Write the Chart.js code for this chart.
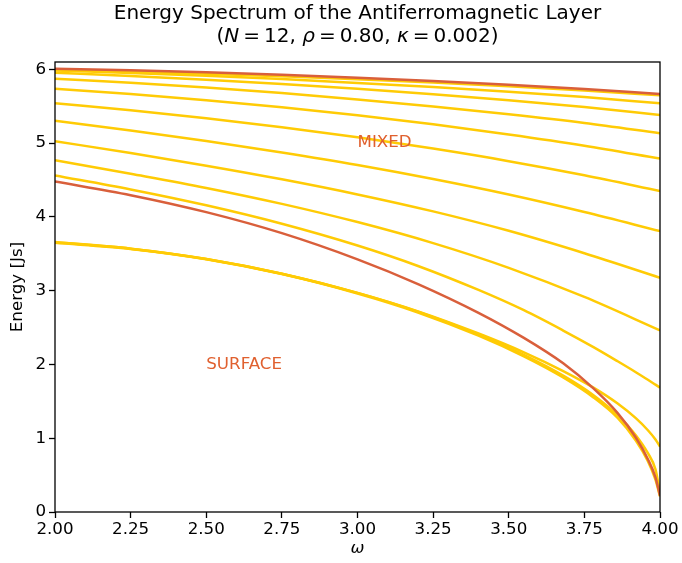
<!DOCTYPE html>
<html>
<head>
<meta charset="utf-8">
<script src="https://cdn.jsdelivr.net/npm/chart.js@4.4.0/dist/chart.umd.min.js"></script>
<style>
  html, body { margin: 0; padding: 0; background: #fff; }
  canvas { display: block; }
</style>
</head>
<body>
<canvas id="chart" width="682" height="563"></canvas>
<script>
// frequency grids: coarse for the flat bands, graded near the band edge at 4
const omegaCoarse = [2.0, 2.25, 2.5, 2.75, 3.0, 3.25, 3.5, 3.75, 4.0];
const omegaFine = [2.0, 2.25, 2.5, 2.75, 3.0, 3.2, 3.4, 3.55, 3.68, 3.78, 3.86, 3.92, 3.96, 3.985, 4.0];

// highlighted (orange) modes
const mixedTop = [6.01, 5.988, 5.96, 5.926, 5.887, 5.843, 5.793, 5.733, 5.667];                                    // coarse
const mixedLow = [4.48, 4.295, 4.065, 3.78, 3.425, 3.09, 2.70, 2.36, 2.015, 1.675, 1.34, 1.01, 0.715, 0.47, 0.22]; // fine

// yellow modes on the coarse grid, top to bottom
const bulk1 = [5.995, 5.972, 5.942, 5.906, 5.866, 5.822, 5.772, 5.714, 5.649];
const bulk2 = [5.985, 5.952, 5.913, 5.868, 5.817, 5.760, 5.697, 5.625, 5.541];
const bulk3 = [5.954, 5.911, 5.861, 5.803, 5.738, 5.664, 5.581, 5.490, 5.382];
const bulk4 = [5.873, 5.818, 5.754, 5.679, 5.593, 5.497, 5.391, 5.273, 5.134];
const bulk5 = [5.737, 5.665, 5.581, 5.485, 5.377, 5.255, 5.118, 4.966, 4.790];
const bulk6 = [5.54, 5.446, 5.338, 5.216, 5.079, 4.926, 4.756, 4.565, 4.352];
const bulk7 = [5.304, 5.172, 5.030, 4.873, 4.703, 4.513, 4.303, 4.066, 3.808];
const bulk8 = [5.027, 4.865, 4.695, 4.51, 4.305, 4.075, 3.812, 3.508, 3.176];
const bulk9 = [4.77, 4.585, 4.393, 4.177, 3.93, 3.645, 3.31, 2.915, 2.462];

// yellow modes on the fine grid
const bulk10 = [4.562, 4.372, 4.157, 3.907, 3.612, 3.335, 3.01, 2.735, 2.46, 2.235, 2.043, 1.895, 1.792, 1.726, 1.686];
const bulk11 = [3.66, 3.57, 3.43, 3.23, 2.97, 2.72, 2.42, 2.165, 1.911, 1.686, 1.47, 1.272, 1.108, 0.983, 0.886];
const surface1 = [3.655, 3.57, 3.43, 3.23, 2.97, 2.715, 2.405, 2.13, 1.848, 1.583, 1.311, 1.041, 0.797, 0.577, 0.26];
const surface2 = [3.65, 3.565, 3.425, 3.225, 2.962, 2.705, 2.39, 2.11, 1.823, 1.553, 1.275, 0.97, 0.69, 0.44, 0.21];

const xTicks = [2.0, 2.25, 2.5, 2.75, 3.0, 3.25, 3.5, 3.75, 4.0];
const xTickLabels = ["2.00", "2.25", "2.50", "2.75", "3.00", "3.25", "3.50", "3.75", "4.00"];
const yTicks = [0, 1, 2, 3, 4, 5, 6];
const yTickLabels = ["0", "1", "2", "3", "4", "5", "6"];

const labels = [
    { text: "MIXED", x: 3.0, y: 5.0 },
    { text: "SURFACE", x: 2.5, y: 2.0 }
];

const YELLOW = "#ffcb05";
const ORANGE = "#d95f3b";
const FONT = "'DejaVu Sans', sans-serif";

Chart.defaults.font.family = FONT;
Chart.defaults.color = "#000";

function series(xs, vals, color) {
    return {
        data: xs.map((w, i) => ({ x: w, y: vals[i] })),
        borderColor: color,
        borderWidth: 2.5,
        pointRadius: 0,
        fill: false,
        cubicInterpolationMode: "monotone"
    };
}

const datasets = [
    series(omegaCoarse, mixedTop, ORANGE),
    series(omegaFine, mixedLow, ORANGE),
    ...[bulk1, bulk2, bulk3, bulk4, bulk5, bulk6, bulk7, bulk8, bulk9].map(v => series(omegaCoarse, v, YELLOW)),
    ...[bulk10, bulk11, surface1, surface2].map(v => series(omegaFine, v, YELLOW))
];

const extras = {
    id: "extras",
    afterDatasetsDraw(chart) {
        const { ctx, scales } = chart;
        ctx.save();
        ctx.font = "16.7px " + FONT;
        ctx.fillStyle = "#e0602f";
        ctx.textAlign = "left";
        ctx.textBaseline = "middle";
        labels.forEach(l => {
            ctx.fillText(l.text, scales.x.getPixelForValue(l.x), scales.y.getPixelForValue(l.y));
        });
        ctx.restore();
    },
    afterDraw(chart) {
        const { ctx, chartArea: a } = chart;
        ctx.save();
        // axes frame
        ctx.strokeStyle = "#000";
        ctx.lineWidth = 1.3;
        ctx.strokeRect(a.left, a.top, a.right - a.left, a.bottom - a.top);

        // title, two lines
        const cx = (a.left + a.right) / 2;
        ctx.fillStyle = "#000";
        ctx.textBaseline = "middle";
        ctx.textAlign = "center";
        ctx.font = "20px " + FONT;
        ctx.fillText("Energy Spectrum of the Antiferromagnetic Layer", cx, 14);

        const parts = [
            ["(", false], ["N", true], ["\u2009=\u200912, ", false], ["ρ", true],
            ["\u2009=\u20090.80, ", false], ["κ", true], ["\u2009=\u20090.002)", false]
        ];
        const fontOf = it => (it ? "italic " : "") + "20px " + FONT;
        let total = 0;
        parts.forEach(([t, it]) => { ctx.font = fontOf(it); total += ctx.measureText(t).width; });
        let x = cx - total / 2;
        ctx.textAlign = "left";
        parts.forEach(([t, it]) => {
            ctx.font = fontOf(it);
            ctx.fillText(t, x, 37);
            x += ctx.measureText(t).width;
        });
        ctx.restore();
    }
};

new Chart(document.getElementById("chart").getContext("2d"), {
    type: "line",
    data: { datasets },
    plugins: [extras],
    options: {
        animation: false,
        responsive: false,
        layout: { padding: { top: 62, right: 22, left: 0, bottom: 0 } },
        plugins: { legend: { display: false }, tooltip: { enabled: false } },
        scales: {
            x: {
                type: "linear",
                min: 2, max: 4,
                afterFit: s => { s.height = 51; },
                afterBuildTicks: s => { s.ticks = xTicks.map(v => ({ value: v })); },
                ticks: {
                    callback: (v, i) => xTickLabels[i],
                    font: { size: 16.7 },
                    color: "#000",
                    padding: 2,
                    maxRotation: 0,
                    autoSkip: false
                },
                grid: { drawOnChartArea: false, drawTicks: true, tickLength: 6, tickColor: "#000", tickWidth: 1.3 },
                border: { display: false },
                title: { display: true, text: "ω", font: { size: 16.7, style: "italic" }, color: "#000", padding: { top: 0, bottom: 4 } }
            },
            y: {
                type: "linear",
                min: 0, max: 6.1,
                afterFit: s => { s.width = 55; },
                afterBuildTicks: s => { s.ticks = yTicks.map(v => ({ value: v })); },
                ticks: {
                    callback: (v, i) => yTickLabels[i],
                    font: { size: 16.7 },
                    color: "#000",
                    padding: 3,
                    autoSkip: false
                },
                grid: { drawOnChartArea: false, drawTicks: true, tickLength: 6, tickColor: "#000", tickWidth: 1.3 },
                border: { display: false },
                title: { display: true, text: "Energy [Js]", font: { size: 16.7 }, color: "#000", padding: { top: 8, bottom: 0 } }
            }
        }
    }
});
</script>
</body>
</html>
